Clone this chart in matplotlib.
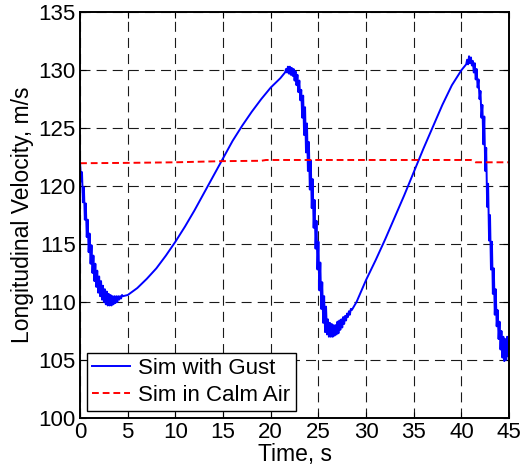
import matplotlib
matplotlib.use("Agg")
import matplotlib.pyplot as plt

plt.rcParams['font.family'] = ['Liberation Sans', 'DejaVu Sans']

# gust run, first drop (jagged)
t1 = [0.0, 0.1, 0.2, 0.3, 0.4, 0.5, 0.6, 0.7, 0.8, 0.9, 1.0, 1.1, 1.2, 1.3, 1.4, 1.5,
      1.6, 1.7, 1.8, 1.9, 2.0, 2.1, 2.2, 2.3, 2.4, 2.5, 2.6, 2.7, 2.8, 2.9, 3.0, 3.1,
      3.2, 3.3, 3.4, 3.5, 3.6, 3.7, 3.8, 3.9, 4.0, 4.1, 4.2, 4.3, 4.4, 4.5]
v1 = [122.0, 120.4, 121.2, 118.6, 119.9, 117.1, 118.5, 115.6, 117.1, 114.3, 115.9,
      113.3, 114.9, 112.5, 114.0, 111.8, 113.3, 111.3, 112.7, 110.8, 112.2, 110.5,
      111.8, 110.2, 111.4, 110.0, 111.1, 109.8, 110.9, 109.7, 110.7, 109.7, 110.6,
      109.7, 110.5, 109.8, 110.5, 109.9, 110.5, 110.0, 110.5, 110.2, 110.5, 110.3,
      110.6, 110.5]

# smooth climb
t2 = [5, 6, 7, 8, 9, 10, 11, 12, 13, 14, 15, 16, 17, 18, 19, 20, 21]
v2 = [110.6, 111.2, 112.0, 112.9, 114.0, 115.2, 116.5, 117.9, 119.4, 120.9, 122.4,
      123.9, 125.2, 126.4, 127.5, 128.5, 129.3]

# second peak and drop (jagged)
t3 = [21.5, 21.6, 21.7, 21.8, 21.9, 22.0, 22.1, 22.2, 22.3, 22.4, 22.5, 22.6, 22.7,
      22.8, 22.9, 23.0, 23.1, 23.2, 23.3, 23.4, 23.5, 23.6, 23.7, 23.8, 23.9, 24.0,
      24.1, 24.2, 24.3, 24.4, 24.5, 24.6, 24.7, 24.8, 24.9, 25.0, 25.1, 25.2, 25.3,
      25.4, 25.5, 25.6, 25.7, 25.8, 25.9, 26.0, 26.1, 26.2, 26.3, 26.4, 26.5, 26.6,
      26.7, 26.8, 26.9, 27.0, 27.1, 27.2, 27.3, 27.4, 27.5, 27.6, 27.7, 27.8, 27.9,
      28.0, 28.1, 28.2, 28.3, 28.4, 28.5]
v3 = [129.8, 130.1, 129.8, 130.3, 129.7, 130.3, 129.6, 130.2, 129.5, 130.1, 129.1,
      129.9, 128.7, 129.6, 128.1, 129.1, 127.4, 128.3, 125.9, 127.8, 124.4, 126.8,
      122.9, 125.4, 121.3, 123.8, 119.7, 122.2, 118.1, 120.6, 116.4, 118.8, 114.6,
      117.0, 112.8, 115.2, 111.0, 113.4, 109.4, 111.7, 108.2, 110.5, 107.4, 109.6,
      107.2, 108.5, 107.0, 108.2, 107.0, 108.1, 107.0, 108.0, 107.1, 108.0, 107.2,
      108.3, 107.3, 108.4, 107.6, 108.5, 107.8, 108.7, 108.1, 108.8, 108.4, 109.0,
      108.7, 109.2, 108.9, 109.4, 109.3]

# second climb
t4 = [29, 30, 31, 32, 33, 34, 35, 36, 37, 38, 39, 40]
v4 = [110.0, 111.9, 113.6, 115.4, 117.3, 119.2, 121.2, 123.2, 125.1, 127.0, 128.7, 130.0]

# last peak and drop (jagged)
t5 = [40.5, 40.6, 40.7, 40.8, 40.9, 41.0, 41.1, 41.2, 41.3, 41.4, 41.5, 41.6, 41.7,
      41.8, 41.9, 42.0, 42.1, 42.2, 42.3, 42.4, 42.5, 42.6, 42.7, 42.8, 42.9, 43.0,
      43.1, 43.2, 43.3, 43.4, 43.5, 43.6, 43.7, 43.8, 43.9, 44.0, 44.1, 44.2, 44.3,
      44.4, 44.5, 44.6, 44.7, 44.8, 44.9, 45.0]
v5 = [130.5, 130.9, 130.5, 131.2, 130.6, 131.1, 130.4, 130.8, 129.8, 130.6, 129.2,
      130.1, 128.5, 129.2, 127.5, 128.2, 125.9, 127.0, 123.6, 126.0, 121.3, 123.3,
      118.2, 120.2, 115.3, 117.5, 112.8, 115.2, 110.7, 112.9, 108.9, 111.1, 107.9,
      109.3, 106.8, 108.3, 105.9, 107.5, 105.2, 107.0, 104.9, 106.8, 105.0, 107.0,
      105.3, 106.5]

t_gust = t1 + t2 + t3 + t4 + t5
v_gust = v1 + v2 + v3 + v4 + v5

# calm air run
t_calm = [0, 5, 10, 15, 19, 19.5, 41, 41.5, 45]
v_calm = [121.97, 122.0, 122.05, 122.15, 122.18, 122.25, 122.25, 122.05, 122.05]

fig = plt.figure(figsize=(5.2, 4.69), dpi=100)
ax = fig.add_axes([0.154, 0.109, 0.825, 0.865])

ax.plot(t_gust, v_gust, color='#0000ff', lw=1.4, label='Sim with Gust')
ax.plot(t_calm, v_calm, color='#ff0000', lw=1.4, ls=(0, (3.5, 2)), label='Sim in Calm Air')

ax.set_xlim(0, 45)
ax.set_ylim(100, 135)
ax.set_xticks(range(0, 46, 5))
ax.set_yticks(range(100, 136, 5))
ax.grid(True, color='0.1', ls=(0, (9, 5.5)), lw=0.8)
ax.tick_params(direction='in', top=True, right=True, labelsize=16, length=4, pad=3)
for s in ax.spines.values():
    s.set_linewidth(1.4)

ax.set_xlabel('Time, s', fontsize=16.5, labelpad=0)
ax.set_ylabel('Longitudinal Velocity, m/s', fontsize=16.5, labelpad=3)

leg = ax.legend(loc='lower left', fontsize=16, fancybox=False, framealpha=1,
                edgecolor='black', handlelength=1.7, handletextpad=0.35,
                borderaxespad=0.3, borderpad=0.25, labelspacing=0.25)
leg.get_frame().set_linewidth(1.0)

fig.savefig('out.png', dpi=100)
